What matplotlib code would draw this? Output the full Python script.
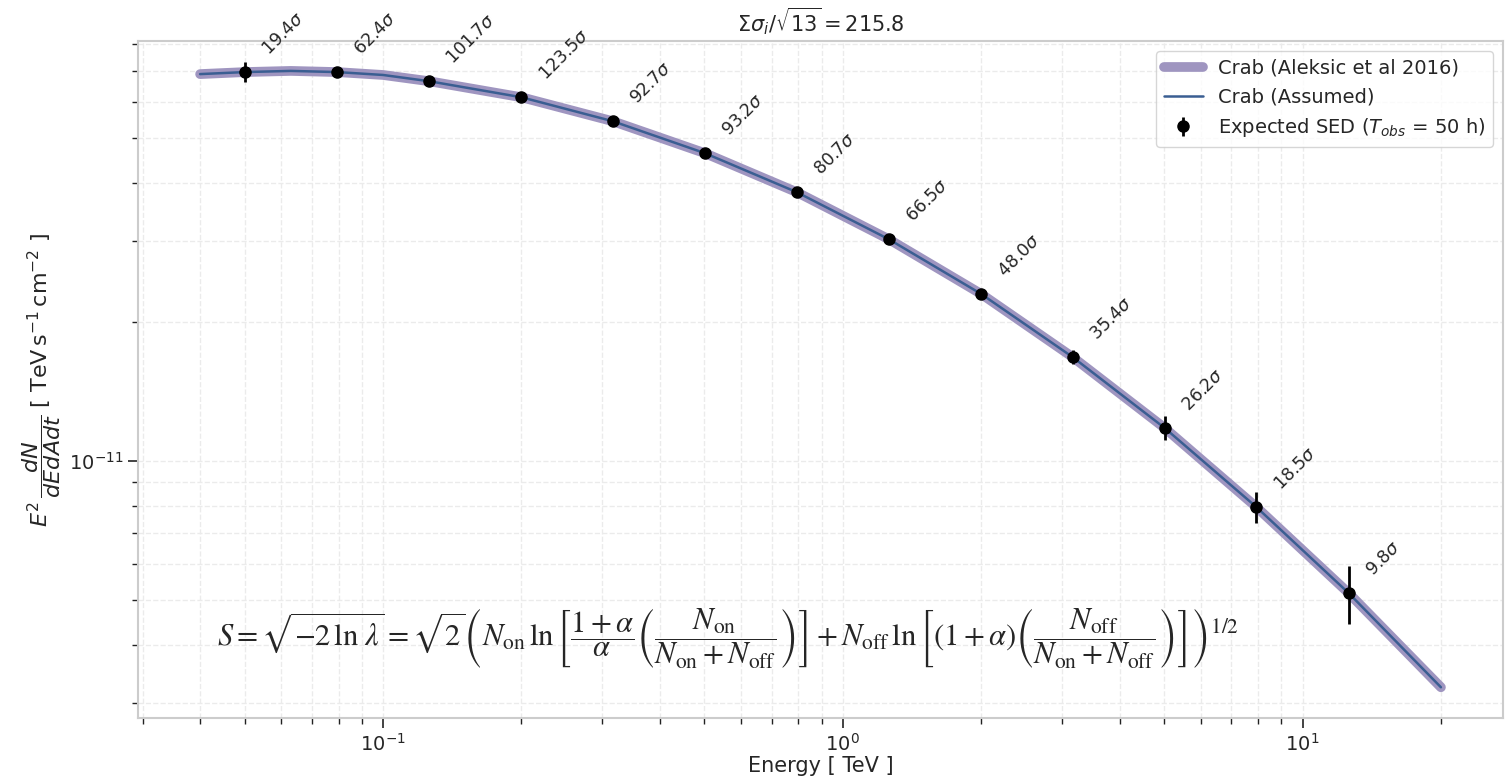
import numpy as np
import matplotlib
matplotlib.use('Agg')
import matplotlib.pyplot as plt
import seaborn as sns

sns.set_style('ticks')
plt.rcParams['font.family'] = ['DejaVu Sans']

# model curve
e_curve = [0.04, 0.0501, 0.063, 0.0794, 0.1, 0.126, 0.2, 0.316, 0.501, 0.794,
           1.26, 2.0, 3.16, 5.01, 7.94, 12.6, 20.0]
f_curve = [6.88e-11, 6.95e-11, 6.99e-11, 6.95e-11, 6.85e-11, 6.64e-11, 6.13e-11,
           5.44e-11, 4.64e-11, 3.82e-11, 3.02e-11, 2.30e-11, 1.68e-11, 1.18e-11,
           7.95e-12, 5.18e-12, 3.24e-12]

# expected SED points
e_pts = [0.0501, 0.0794, 0.126, 0.2, 0.316, 0.501, 0.794, 1.26, 2.0, 3.16, 5.01, 7.94, 12.6]
f_pts = [6.95e-11, 6.95e-11, 6.64e-11, 6.13e-11, 5.44e-11, 4.64e-11, 3.82e-11,
         3.02e-11, 2.30e-11, 1.68e-11, 1.18e-11, 7.95e-12, 5.18e-12]
f_err = [3.5e-12, 1.4e-12, 0.8e-12, 0.6e-12, 0.7e-12, 0.6e-12, 0.57e-12,
         0.6e-12, 0.6e-12, 0.59e-12, 0.71e-12, 0.61e-12, 0.74e-12]
sigmas = [19.4, 62.4, 101.7, 123.5, 92.7, 93.2, 80.7, 66.5, 48.0, 35.4, 26.2, 18.5, 9.8]
total_sig = 215.8

fig = plt.figure(figsize=(15.09, 7.8), dpi=100)
ax = fig.add_axes([0.0915, 0.0795, 0.9045, 0.8675])

ax.plot(e_curve, f_curve, color='#9f95c0', lw=7, solid_capstyle='round',
        label='Crab (Aleksic et al 2016)')
ax.plot(e_curve, f_curve, color='#3a5e92', lw=1.8, label='Crab (Assumed)')
ax.errorbar(e_pts, f_pts, yerr=f_err, fmt='o', color='black', ms=8, elinewidth=2,
            label=r'Expected SED ($T_{obs}$ = 50 h)', zorder=5)

for e, f, s in zip(e_pts, f_pts, sigmas):
    ax.annotate(r'%.1f$\sigma$' % s, (e, f), xytext=(10, 10), textcoords='offset points',
                rotation=45, ha='left', va='bottom', fontsize=12.5)

ax.set_xscale('log')
ax.set_yscale('log')
ax.set_ylim(2.78e-12, 8.1e-11)

ax.grid(True, which='both', ls='--', color='#ebebeb', lw=1)
for sp in ax.spines.values():
    sp.set_color('#cccccc')
    sp.set_linewidth(1.5)
ax.tick_params(which='major', length=7, width=1.2, color='#222222', labelsize=14, labelcolor='#262626')
ax.tick_params(which='minor', length=4, width=1.0, color='#222222')

ax.set_xlabel('Energy [ TeV ]', fontsize=15, color='#262626', labelpad=1)
ax.set_ylabel(r'$E^2\,\dfrac{dN}{dEdAdt}$ [ TeV$\,$s$^{-1}\,$cm$^{-2}$ ]', fontsize=16, color='#262626')
ax.set_title(r'$\Sigma\sigma_i/\sqrt{13} = %.1f$' % total_sig, fontsize=15, color='#262626', pad=7)

ax.text(0.432, 0.117,
        r'$S = \sqrt{-2\,\ln\,\lambda} = \sqrt{2}\left(N_{\rm on}\,\ln\left[\dfrac{1+\alpha}{\alpha}'
        r'\left(\dfrac{N_{\rm on}}{N_{\rm on}+N_{\rm off}}\right)\right] + N_{\rm off}\,\ln\left[(1+\alpha)'
        r'\left(\dfrac{N_{\rm off}}{N_{\rm on}+N_{\rm off}}\right)\right]\right)^{1/2}$',
        transform=ax.transAxes, ha='center', va='center', fontsize=22, math_fontfamily='stix')

ax.legend(loc='upper right', fontsize=14, frameon=True)

fig.savefig('out.png', dpi=100)
